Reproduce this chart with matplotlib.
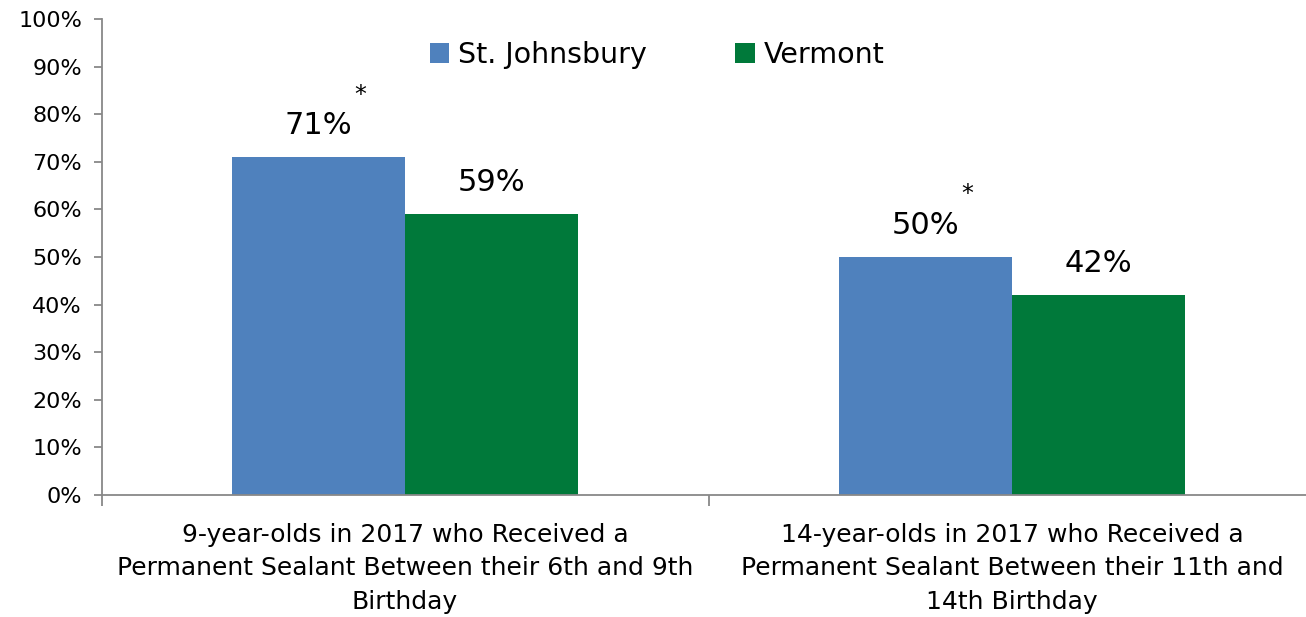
import matplotlib
matplotlib.use("Agg")
import matplotlib.pyplot as plt
import numpy as np

categories = ["9-year-olds in 2017 who Received a\nPermanent Sealant Between their 6th and 9th\nBirthday",
              "14-year-olds in 2017 who Received a\nPermanent Sealant Between their 11th and\n14th Birthday"]
series_names = ["St. Johnsbury", "Vermont"]
st_johnsbury = [71, 50]
vermont = [59, 42]
st_johnsbury_flags = ["*", "*"]
yticks = [0, 10, 20, 30, 40, 50, 60, 70, 80, 90, 100]

plt.rcParams['font.family'] = ['DejaVu Sans']

W, H = 1306, 617
fig = plt.figure(figsize=(W/100, H/100), dpi=100)
left, right, top, bottom = 101.5, 1306, 19, 495
ax = fig.add_axes([left/W, 1-bottom/H, (right-left)/W, (bottom-top)/H])

x = np.arange(len(categories))
bw = 0.285
blue = "#4F81BD"
green = "#00793A"
b1 = ax.bar(x - bw/2, st_johnsbury, bw, color=blue, label=series_names[0])
b2 = ax.bar(x + bw/2, vermont, bw, color=green, label=series_names[1])

unit = 607.0
ax.set_ylim(0, 100)
ax.set_xlim(-0.5, (right - left) / unit - 0.5)
ax.set_yticks(yticks)
ax.set_yticklabels([f"{v}%" for v in yticks], fontsize=16)
ax.set_xticks(x)
ax.set_xticklabels(categories, fontsize=18, linespacing=1.5)
ax.tick_params(axis='x', length=0, pad=20)
ax.set_xticks([-0.5, 0.5], minor=True)
ax.tick_params(axis='x', which='minor', length=8, color="#888888", width=1.3)
ax.tick_params(axis='y', length=6, color="#888888", width=1.3, pad=8)

for s in ['top', 'right']:
    ax.spines[s].set_visible(False)
for s in ['left', 'bottom']:
    ax.spines[s].set_color("#888888")
    ax.spines[s].set_linewidth(1.3)

for i, (v, f) in enumerate(zip(st_johnsbury, st_johnsbury_flags)):
    ax.annotate(f"{v}%", (x[i] - bw/2, v), xytext=(0, 12), textcoords="offset points",
                ha="center", va="bottom", fontsize=22)
    ax.annotate(f, (x[i] - bw/2, v), xytext=(30, 45), textcoords="offset points",
                ha="center", va="center", fontsize=17)
for i, v in enumerate(vermont):
    ax.annotate(f"{v}%", (x[i] + bw/2, v), xytext=(0, 12), textcoords="offset points",
                ha="center", va="bottom", fontsize=22)

fig.legend(handles=[b1, b2], loc="center", bbox_to_anchor=(0.503, 0.911), ncol=2,
           frameon=False, fontsize=20.5, handlelength=0.7, handleheight=0.7,
           handletextpad=0.3, columnspacing=3.1)

fig.savefig("out.png", dpi=100)
